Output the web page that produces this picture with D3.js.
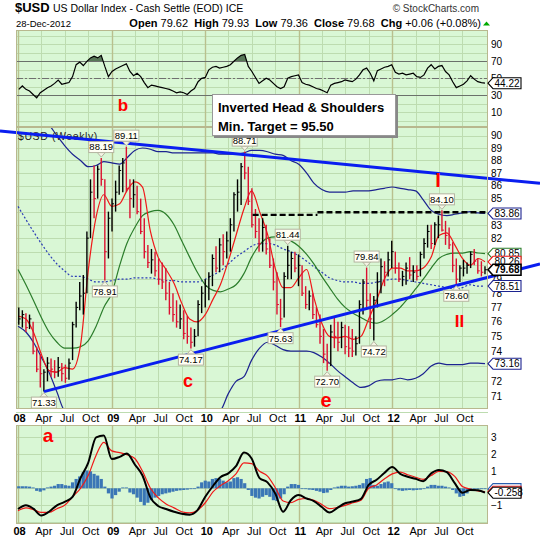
<!DOCTYPE html>
<html>
<head>
<meta charset="utf-8">
<script src="https://cdnjs.cloudflare.com/ajax/libs/d3/7.8.5/d3.min.js"></script>
<style>
	body { margin: 0; background: #fff; }
	svg text { font-family: "Liberation Sans", Arial, sans-serif; }
</style>
</head>
<body>
<script>
// weekly-ish bars (every two weeks from 4 Jan 2008)
var barHigh = [
	77.0,76.8,76.6,76.5,76.0,74.3,73.8,72.8,73.6,73.5,
	73.4,73.6,73.2,73.1,73.5,76.0,77.4,78.8,79.3,82.5,
	86.5,87.6,87.6,88.19,86.5,84.0,85.0,86.4,87.6,88.2,
	89.11,86.5,86.5,86.0,85.0,83.5,81.5,81.2,81.0,80.5,
	80.2,79.8,78.8,78.0,77.5,77.2,76.8,76.4,75.6,75.5,
	77.5,78.5,79.0,79.5,80.8,81.4,82.0,82.3,82.5,83.5,
	85.5,86.5,87.8,88.71,87.5,85.8,84.2,83.5,83.5,83.0,
	82.0,80.5,79.5,77.6,79.5,81.44,81.0,81.0,80.8,80.0,
	78.5,78.2,78.0,77.0,76.5,75.5,74.5,75.8,76.3,76.0,
	76.0,75.8,75.7,75.5,75.0,77.5,79.0,79.84,78.0,77.8,
	79.5,80.5,80.3,81.0,81.8,81.0,80.2,79.6,80.2,80.6,
	80.0,80.0,81.0,82.0,83.0,83.0,83.2,83.7,84.10,83.3,
	82.8,81.7,80.5,80.0,80.4,80.2,81.0,81.2,80.5,80.3,
	79.93
];
var barLow = [
	75.8,75.6,75.3,75.5,73.8,72.6,71.6,71.33,72.0,72.3,
	72.2,72.3,72.0,71.9,72.1,73.4,75.6,76.8,76.5,78.0,
	82.0,83.5,85.0,86.0,78.91,80.5,82.5,84.0,85.3,85.5,
	85.5,83.5,84.3,83.8,82.3,80.5,79.8,79.4,79.2,78.6,
	78.3,77.5,76.5,76.0,75.6,75.5,74.8,74.5,74.17,74.3,
	75.0,76.6,77.0,77.5,78.5,79.5,79.5,80.0,80.5,81.0,
	82.5,84.0,84.5,86.5,84.5,82.8,82.0,81.0,81.0,80.8,
	79.8,78.2,76.5,75.63,76.3,79.0,79.0,79.5,78.5,77.8,
	76.9,76.8,76.2,75.6,74.5,73.2,72.70,73.0,74.2,74.0,
	74.2,73.8,73.6,73.6,73.7,74.5,76.5,77.0,75.5,74.72,
	77.0,78.0,78.5,79.2,79.8,79.4,78.8,78.5,78.6,79.0,
	78.8,78.9,79.2,80.5,81.3,81.2,81.5,82.0,82.5,81.5,
	81.2,79.5,78.60,78.8,79.2,79.4,79.8,80.0,79.4,79.2,
	79.36
];
var barClose = [
	76.2,76.5,75.6,76.2,74.0,72.8,72.5,72.6,73.2,72.8,
	72.6,72.9,72.5,72.2,73.2,75.8,77.0,77.8,78.0,82.0,
	85.5,85.0,87.3,86.5,81.0,83.5,84.6,85.5,87.2,87.8,
	85.8,85.0,85.3,84.0,82.5,81.0,80.2,80.4,79.6,79.0,
	78.8,78.0,77.0,76.5,76.0,76.2,75.2,75.0,74.6,75.0,
	77.2,78.0,78.5,79.2,80.5,79.8,81.5,81.0,81.8,83.0,
	85.3,85.5,87.5,87.0,84.8,83.0,82.5,81.6,82.8,81.2,
	80.0,78.8,77.2,76.2,79.2,80.0,80.5,79.8,80.0,78.0,
	77.2,77.8,76.5,75.8,75.0,73.8,73.2,75.3,75.0,74.6,
	75.6,74.3,74.2,74.0,74.5,77.2,78.8,77.5,76.2,77.5,
	78.8,79.9,79.5,80.4,81.0,79.8,79.0,79.2,79.8,79.3,
	79.5,79.2,80.8,81.6,82.5,81.6,83.0,83.0,82.6,82.2,
	81.5,80.0,79.0,79.8,79.8,80.0,80.8,80.3,79.6,79.5,
	79.68
];
var rsiValues = [
	37,41,37,35,31,27,33,36,39,41,
	44,48,43,44,45,52,66,69,65,70,
	74,76,74,77,64,52,58,61,63,65,
	67,58,53,56,52,45,39,42,41,40,
	39,38,37,35,33,34,33,31,35,38,
	46,50,51,60,63,64,62,63,64,66,
	70,74,77,78,64,58,51,44,47,50,
	48,44,40,38,40,50,52,53,54,45,
	43,42,40,38,37,35,33,42,44,45,
	46,48,47,46,49,54,60,62,56,47,
	59,61,63,64,66,57,55,56,54,55,
	56,52,51,54,62,66,61,64,65,58,
	54,46,39,41,43,47,53,49,46,45,
	44.22
];
var histValues = [
	0.12,0.12,0.12,0.1,0.05,-0.15,-0.2,-0.12,0.05,0.1,
	0.15,0.25,0.25,0.18,0.15,0.35,0.55,0.7,0.95,1.05,
	1.0,0.85,0.75,0.55,0.1,-0.3,-0.6,-0.4,-0.2,0.05,
	0.05,-0.25,-0.35,-0.55,-0.8,-1.0,-0.85,-0.7,-0.55,-0.45,
	-0.35,-0.3,-0.25,-0.2,-0.15,-0.12,-0.1,-0.08,-0.05,0.0,
	0.1,0.35,0.45,0.4,0.55,0.6,0.55,0.45,0.35,0.4,
	0.6,0.65,0.55,0.3,-0.1,-0.45,-0.55,-0.6,-0.5,-0.4,
	-0.5,-0.7,-0.75,-0.6,-0.35,0.1,0.25,0.25,0.2,0.0,
	-0.05,-0.08,-0.1,-0.15,-0.2,-0.28,-0.25,-0.1,0.05,0.1,
	0.15,0.15,0.1,0.12,0.15,0.2,0.3,0.55,0.6,0.2,
	0.15,0.25,0.35,0.4,0.3,0.0,-0.12,-0.15,-0.12,-0.1,
	-0.12,-0.1,-0.08,0.0,0.1,0.2,0.2,0.15,0.15,0.1,
	0.05,-0.1,-0.3,-0.5,-0.45,-0.3,-0.15,-0.1,-0.05,-0.05,
	-0.05
];

// month-start readings Jan 2008 .. Dec 2012, plus the last week
var redMA = [
	76.4,76.2,75.3,73.8,72.7,72.6,72.9,72.8,74.4,79.6,
	83.6,85.3,84.4,84.6,85.6,86.3,85.9,82.5,80.6,79.7,
	78.7,77.3,76.2,76.0,76.5,77.6,78.6,80.3,82.2,84.2,
	85.6,84.0,82.3,79.8,78.4,78.4,79.1,79.7,77.7,75.9,
	75.0,74.9,75.0,74.8,75.0,76.2,77.5,79.0,79.8,79.8,
	79.6,79.6,79.8,80.6,82.2,82.4,81.5,80.5,80.0,80.5,
	80.26
];
var greenMA = [
	79.7,78.6,77.5,76.3,75.3,74.6,74.2,74.2,74.3,74.7,
	75.7,77.0,78.0,80.0,81.6,82.8,83.7,84.0,84.1,83.8,
	83.0,81.8,80.6,79.5,78.6,78.2,78.1,78.3,78.6,79.4,
	80.6,81.5,82.0,82.1,82.0,81.8,81.4,80.8,80.1,79.2,
	78.4,77.6,77.0,76.6,76.3,76.0,75.9,76.1,76.5,77.0,
	77.6,78.3,79.0,79.8,80.5,80.8,80.9,80.9,81.0,80.9,
	80.85
];
var midBand = [
	84.4,83.4,82.5,81.6,80.8,80.1,79.6,79.2,79.2,79.0,
	78.8,78.8,78.9,79.0,79.0,79.1,79.1,79.1,79.0,78.9,
	78.9,78.8,78.8,78.8,79.0,79.3,79.6,80.1,80.6,81.0,
	81.4,81.6,81.6,81.5,81.2,81.0,80.7,80.3,79.9,79.5,
	79.1,78.9,78.8,78.8,78.7,78.7,78.8,78.9,79.0,79.0,
	78.9,78.8,78.7,78.6,78.5,78.4,78.3,78.4,78.6,78.5,
	78.51
];
var upperBand = [
	93.0,92.5,92.0,91.5,90.9,90.0,89.2,88.5,88.0,87.5,
	87.6,87.9,87.8,87.7,88.2,88.8,89.0,88.9,88.7,88.7,
	88.6,88.6,88.6,88.6,88.6,88.6,88.5,88.5,88.5,88.6,
	88.8,88.8,88.7,88.5,88.4,88.0,87.7,87.0,86.2,85.7,
	85.5,85.5,85.5,85.6,85.6,85.6,85.7,85.8,85.9,85.8,
	85.7,85.6,84.9,84.1,83.8,83.7,83.8,83.9,84.0,83.9,
	83.86
];
var lowerBand = [
	75.7,75.3,74.6,73.6,72.6,71.3,70.1,69.9,69.9,69.9,
	69.8,69.6,69.7,70.0,69.8,69.4,69.2,69.3,69.3,69.1,
	69.2,69.0,69.0,69.0,69.4,69.9,70.1,71.2,72.0,72.3,
	73.4,74.2,74.6,74.4,74.1,74.0,74.0,74.0,73.9,73.6,
	73.2,72.7,72.3,71.9,71.6,71.7,72.0,72.1,72.1,72.2,
	72.1,72.2,72.5,73.0,73.2,73.1,73.1,73.1,73.2,73.2,
	73.16
];
var macdLine = [
	-1.22,-1.0,-1.2,-1.6,-1.38,-1.0,-0.8,-0.5,0.6,1.5,
	3.0,3.1,1.72,1.85,2.05,1.4,0.75,-0.55,-1.04,-1.22,
	-1.38,-1.5,-1.55,-1.3,-0.5,0.15,0.65,0.88,1.3,2.1,
	1.75,0.6,0.35,-0.3,-1.38,-0.7,-0.4,-0.6,-0.75,-1.1,
	-1.42,-1.15,-0.88,-0.78,-0.62,0.2,0.5,0.9,1.25,0.85,
	0.68,0.56,0.42,0.88,1.08,0.95,0.3,-0.26,-0.1,-0.12,
	-0.258
];
var signalLine = [
	-1.32,-1.15,-1.25,-1.42,-1.42,-1.2,-1.0,-0.5,0.0,0.75,
	1.95,2.7,2.2,2.1,1.98,1.75,1.0,0.0,-0.55,-0.92,
	-1.15,-1.38,-1.45,-1.3,-0.85,-0.2,0.15,0.45,0.85,1.5,
	1.45,1.0,0.72,0.05,-0.75,-0.85,-0.65,-0.6,-0.7,-0.95,
	-1.2,-1.12,-1.0,-0.85,-0.7,0.0,0.2,0.55,0.85,0.95,
	0.8,0.65,0.53,0.75,1.0,0.98,0.7,0.1,-0.05,-0.15,
	-0.2
];

var peakBars = [7, 23, 24, 30, 48, 63, 73, 75, 86, 97, 99, 118, 122];
var peakSide = ['lo','hi','lo','hi','lo','hi','lo','hi','lo','hi','lo','hi','lo'];

var yearLabels = ['08', '09', '10', '11', '12'];
var monthLabels = ['Apr', 'Jul', 'Oct'];
var priceTicks = [71,72,73,74,75,76,77,78,79,80,81,82,83,84,85,86,87,88,89,90];
var rsiTicks = [90, 70, 50, 30, 10];
var macdTicks = [3, 2, 1, -1];
var headerStats = [['Open', '79.62'], ['High', '79.93'], ['Low', '79.36'], ['Close', '79.68'], ['Chg', '+0.06 (+0.08%)']];

// trend lines: [date, price]
var upperTrend = [[new Date(2008, 0, 1), 90.25], [new Date(2013, 0, 1), 86.6]];
var lowerTrend = [[null, 71.33], [new Date(2013, 0, 1), 79.1]];
var neckline = [[new Date(2010, 6, 5), new Date(2011, 2, 15), 83.75], [new Date(2011, 2, 15), new Date(2012, 11, 31), 83.95]];

var left = 16, right = 488;
var svg = d3.select('body').append('svg').attr('width', 540).attr('height', 540);

var x = d3.scaleTime().domain([new Date(2008, 0, 1), new Date(2013, 0, 1)]).range([18, 486]);
var barDates = barHigh.map(function(d, i) { return d3.timeDay.offset(new Date(2008, 0, 4), 14 * i); });
var monthDates = d3.range(60).map(function(m) { return d3.timeMonth.offset(new Date(2008, 0, 1), m); }).concat([new Date(2012, 11, 28)]);
lowerTrend[0][0] = barDates[7];

var yRsi = d3.scaleLinear().domain([0, 100]).range([120.8, 35.8]);
var yPrice = d3.scaleLog().domain([71, 90]).range([396.7, 135.7]);
var yMacd = d3.scaleLinear().domain([0, 1]).range([488.3, 471.3]);

var quarterDates = d3.timeMonth.every(3).range(new Date(2008, 0, 1), new Date(2013, 0, 1));

function last(a) { return a[a.length - 1]; }

function drawPanel(top, bottom, yScale, grid, id) {
	svg.append('rect')
		.attr('x', left).attr('y', top)
		.attr('width', right - left).attr('height', bottom - top)
		.attr('fill', '#d9f7d5');

	svg.append('g').selectAll('line')
		.data(grid)
		.enter()
		.append('line')
		.attr('x1', left).attr('x2', right)
		.attr('y1', function(d) { return Math.round(yScale(d)) + 0.5; })
		.attr('y2', function(d) { return Math.round(yScale(d)) + 0.5; })
		.attr('stroke', '#bddcb0');

	svg.append('g').selectAll('line')
		.data(quarterDates)
		.enter()
		.append('line')
		.attr('x1', function(d) { return Math.round(x(d)) + 0.5; })
		.attr('x2', function(d) { return Math.round(x(d)) + 0.5; })
		.attr('y1', top).attr('y2', bottom)
		.attr('stroke', function(d) { return d.getMonth() === 0 ? '#b9c08e' : '#bddcb0'; })
		.attr('stroke-width', function(d) { return d.getMonth() === 0 ? 1.4 : 1; });

	svg.append('clipPath').attr('id', id)
		.append('rect')
		.attr('x', left).attr('y', top)
		.attr('width', right - left).attr('height', bottom - top);
}

function drawBorder(top, bottom) {
	svg.append('rect')
		.attr('x', left + 0.5).attr('y', top + 0.5)
		.attr('width', right - left - 1).attr('height', bottom - top - 1)
		.attr('fill', 'none')
		.attr('stroke', '#b8b88e');
}

function drawTag(y, label, color, bold) {
	var g = svg.append('g');
	g.append('path')
		.attr('d', 'M488,' + y + 'L493,' + (y - 5.5) + 'L521,' + (y - 5.5) + 'L521,' + (y + 5.5) + 'L493,' + (y + 5.5) + 'Z')
		.attr('fill', '#fff')
		.attr('stroke', color)
		.attr('stroke-width', bold ? 1.6 : 1.1);
	g.append('text')
		.attr('x', 494.5).attr('y', y + 3.6)
		.style('font-size', '10px')
		.style('font-weight', bold ? 'bold' : 'normal')
		.attr('fill', '#000')
		.text(label);
}

function valueAxis(scale, ticks, fmt) {
	var g = svg.append('g')
		.attr('transform', 'translate(' + right + ',0)')
		.call(d3.axisRight(scale).tickValues(ticks).tickSize(0).tickPadding(3).tickFormat(fmt));
	g.select('.domain').remove();
	g.selectAll('text').style('font-size', '10px').style('font-family', '"Liberation Sans", Arial, sans-serif').attr('fill', '#000');
}

function timeAxis(y, pad) {
	var g = svg.append('g')
		.attr('transform', 'translate(0,' + y + ')')
		.call(d3.axisBottom(x).tickValues(quarterDates).tickSize(0).tickPadding(pad)
			.tickFormat(function(d) {
				return d.getMonth() === 0 ? yearLabels[d.getFullYear() - 2008] : monthLabels[d.getMonth() / 3 - 1];
			}));
	g.select('.domain').remove();
	g.selectAll('text')
		.style('font-size', '11px')
		.style('font-family', '"Liberation Sans", Arial, sans-serif')
		.style('font-weight', function(d) { return d.getMonth() === 0 ? 'bold' : 'normal'; })
		.attr('dx', function(d) { return d.getMonth() === 0 ? 1 : 2; })
		.attr('fill', '#000');
}

// ---------- header ----------
svg.append('text').attr('x', 15).attr('y', 12).style('font-size', '13px').style('font-weight', 'bold').text('$USD');
svg.append('text').attr('x', 53).attr('y', 12).style('font-size', '10.5px').text('US Dollar Index - Cash Settle (EOD) ICE');
svg.append('text').attr('x', 479).attr('y', 12).attr('text-anchor', 'end').style('font-size', '10px').attr('fill', '#333').text('\u00a9 StockCharts.com');
svg.append('text').attr('x', 16).attr('y', 26.5).style('font-size', '9.5px').text('28-Dec-2012');

var stats = svg.append('text').attr('x', 481).attr('y', 26.5).attr('text-anchor', 'end').style('font-size', '11px');
headerStats.forEach(function(s, i) {
	stats.append('tspan').style('font-weight', 'bold').text((i ? '\u00a0\u00a0' : '') + s[0]);
	stats.append('tspan').text('\u00a0' + s[1]);
});
svg.append('path').attr('d', 'M483,25.5L486.5,21.5L490,25.5Z').attr('fill', '#0a0');

// ---------- RSI panel ----------
drawPanel(30, 127, yRsi, d3.range(0, 101, 10), 'clipRsi');

svg.append('g').selectAll('line')
	.data([70, 50, 30])
	.enter()
	.append('line')
	.attr('x1', left).attr('x2', right)
	.attr('y1', function(d) { return Math.round(yRsi(d)) + 0.5; })
	.attr('y2', function(d) { return Math.round(yRsi(d)) + 0.5; })
	.attr('stroke', '#707070')
	.attr('stroke-dasharray', function(d) { return d === 50 ? '7,2,2,2' : null; });

svg.append('clipPath').attr('id', 'rsiHigh').append('rect').attr('x', left).attr('y', 30).attr('width', right - left).attr('height', yRsi(70) - 30);
svg.append('clipPath').attr('id', 'rsiLow').append('rect').attr('x', left).attr('y', yRsi(30)).attr('width', right - left).attr('height', 127 - yRsi(30));

var rsiArea70 = d3.area().x(function(d, i) { return x(barDates[i]); }).y0(yRsi(70)).y1(function(d) { return yRsi(d); });
var rsiArea30 = d3.area().x(function(d, i) { return x(barDates[i]); }).y0(yRsi(30)).y1(function(d) { return yRsi(d); });
svg.append('path').datum(rsiValues).attr('d', rsiArea70).attr('fill', '#587858').attr('clip-path', 'url(#rsiHigh)');
svg.append('path').datum(rsiValues).attr('d', rsiArea30).attr('fill', '#587858').attr('clip-path', 'url(#rsiLow)');

svg.append('path')
	.datum(rsiValues)
	.attr('d', d3.line().x(function(d, i) { return x(barDates[i]); }).y(function(d) { return yRsi(d); }))
	.attr('fill', 'none')
	.attr('stroke', '#000')
	.attr('stroke-width', 1.2)
	.attr('clip-path', 'url(#clipRsi)');

// ---------- price panel ----------
drawPanel(127, 409, yPrice, [70].concat(priceTicks), 'clipPrice');

var monthLine = function(scale) {
	return d3.line()
		.x(function(d, i) { return x(monthDates[i]); })
		.y(function(d) { return scale(d); })
		.curve(d3.curveMonotoneX);
};

var priceLayer = svg.append('g').attr('clip-path', 'url(#clipPrice)');

[[upperBand, '#1c2390', null], [lowerBand, '#1c2390', null], [midBand, '#2a3bb5', '2,2'], [greenMA, '#2b7d2b', null], [redMA, '#f01818', null]].forEach(function(s) {
	priceLayer.append('path')
		.datum(s[0])
		.attr('d', monthLine(yPrice))
		.attr('fill', 'none')
		.attr('stroke', s[1])
		.attr('stroke-width', 1.2)
		.attr('stroke-dasharray', s[2]);
});

var bars = priceLayer.selectAll('g.bar')
	.data(barHigh)
	.enter()
	.append('g')
	.attr('class', 'bar');

function barColor(d, i) {
	return i > 0 && barClose[i] < barClose[i - 1] ? '#dc1030' : '#000';
}

bars.append('line')
	.attr('x1', function(d, i) { return x(barDates[i]); })
	.attr('x2', function(d, i) { return x(barDates[i]); })
	.attr('y1', function(d) { return yPrice(d); })
	.attr('y2', function(d, i) { return yPrice(barLow[i]); })
	.attr('stroke', barColor)
	.attr('stroke-width', 1.4);

bars.append('line')
	.attr('x1', function(d, i) { return x(barDates[i]); })
	.attr('x2', function(d, i) { return x(barDates[i]) + 2; })
	.attr('y1', function(d, i) { return yPrice(barClose[i]); })
	.attr('y2', function(d, i) { return yPrice(barClose[i]); })
	.attr('stroke', barColor)
	.attr('stroke-width', 1);

svg.append('text')
	.attr('x', 18).attr('y', 139.5)
	.style('font-size', '10.5px')
	.style('letter-spacing', '0.6px')
	.attr('fill', '#222')
	.text('$USD (Weekly)');

// neckline
svg.append('g').selectAll('line')
	.data(neckline)
	.enter()
	.append('line')
	.attr('x1', function(d) { return x(d[0]); })
	.attr('x2', function(d) { return Math.min(x(d[1]), right); })
	.attr('y1', function(d) { return yPrice(d[2]); })
	.attr('y2', function(d) { return yPrice(d[2]); })
	.attr('stroke', '#000')
	.attr('stroke-width', 2.4)
	.attr('stroke-dasharray', '6,3');

// trend lines, stretched out to the picture edges
function trendPath(pts, x0, x1) {
	var ax = x(pts[0][0]), ay = yPrice(pts[0][1]);
	var bx = x(pts[1][0]), by = yPrice(pts[1][1]);
	var k = (by - ay) / (bx - ax);
	var sx = x0 === null ? ax : x0;
	var sy = ay + k * (sx - ax);
	return 'M' + sx + ',' + sy + 'L' + x1 + ',' + (ay + k * (x1 - ax));
}
svg.append('path').attr('d', trendPath(upperTrend, 0, 540)).attr('stroke', '#0a1ef0').attr('stroke-width', 3).attr('fill', 'none');
svg.append('path').attr('d', trendPath(lowerTrend, null, 540)).attr('stroke', '#0a1ef0').attr('stroke-width', 3).attr('fill', 'none');

// peak / trough labels
peakBars.forEach(function(b, k) {
	var hi = peakSide[k] === 'hi';
	var v = hi ? barHigh[b] : barLow[b];
	var px = x(barDates[b]), py = yPrice(v);
	var cy = hi ? py - 11 : py + 11;
	var w = 25, h = 11;
	var edge = hi ? cy + h / 2 : cy - h / 2;
	var g = svg.append('g');
	g.append('path')
		.attr('d', 'M' + (px - 4) + ',' + edge + 'L' + px + ',' + (hi ? py - 1 : py + 1) + 'L' + (px + 4) + ',' + edge + 'Z')
		.attr('fill', '#f4f4e4')
		.attr('stroke', '#b4b4a0');
	g.append('rect')
		.attr('x', px - w / 2).attr('y', cy - h / 2)
		.attr('width', w).attr('height', h)
		.attr('fill', '#fffff4')
		.attr('stroke', '#b4b4a0');
	g.append('text')
		.attr('x', px).attr('y', cy + 3.4)
		.attr('text-anchor', 'middle')
		.style('font-size', '9.5px')
		.text(v.toFixed(2));
});

// ---------- MACD panel ----------
drawPanel(425, 524, yMacd, [-2, -1, 0, 1, 2, 3], 'clipMacd');

var macdLayer = svg.append('g').attr('clip-path', 'url(#clipMacd)');
macdLayer.selectAll('rect')
	.data(histValues)
	.enter()
	.append('rect')
	.attr('x', function(d, i) { return x(barDates[i]) - 1.6; })
	.attr('width', 3.2)
	.attr('y', function(d) { return Math.min(yMacd(d), yMacd(0)); })
	.attr('height', function(d) { return Math.max(Math.abs(yMacd(d) - yMacd(0)), 0.8); })
	.attr('fill', '#3a76b6');

macdLayer.append('path')
	.datum(signalLine)
	.attr('d', monthLine(yMacd))
	.attr('fill', 'none')
	.attr('stroke', '#f01818')
	.attr('stroke-width', 1.2);
macdLayer.append('path')
	.datum(macdLine)
	.attr('d', monthLine(yMacd))
	.attr('fill', 'none')
	.attr('stroke', '#000')
	.attr('stroke-width', 2);

// ---------- borders, axes, notes ----------
drawBorder(30, 127);
drawBorder(127, 409);
drawBorder(425, 524);

timeAxis(409, 5);
timeAxis(524, 3.5);

// price ticks that sit under a last-value tag are hidden in the original
var priceTagValues = [last(upperBand), last(greenMA), last(redMA), last(barClose), last(midBand), last(lowerBand)];
var shownPriceTicks = priceTicks.filter(function(t) {
	return priceTagValues.every(function(v) { return Math.abs(yPrice(t) - yPrice(v)) >= 6; });
});

valueAxis(yRsi, rsiTicks, d3.format('d'));
valueAxis(yPrice, shownPriceTicks, d3.format('d'));
valueAxis(yMacd, macdTicks, d3.format('d'));

// note box
svg.append('rect').attr('x', 214).attr('y', 96).attr('width', 184).attr('height', 42).attr('fill', '#888');
svg.append('rect').attr('x', 212.5).attr('y', 94.5).attr('width', 183).attr('height', 41).attr('fill', '#fff').attr('stroke', '#999');
svg.append('text').attr('x', 218).attr('y', 112).style('font-size', '13px').style('font-weight', 'bold').text('Inverted Head & Shoulders');
svg.append('text').attr('x', 218).attr('y', 131).style('font-size', '13px').style('font-weight', 'bold').text('Min. Target = 95.50');

// wave letters
[['b', 123, 111, 17], ['c', 188, 387, 18], ['e', 326, 406.5, 20], ['a', 48, 441.5, 19], ['I', 438, 187, 20], ['II', 459.5, 327, 17]].forEach(function(t) {
	svg.append('text')
		.attr('x', t[1]).attr('y', t[2])
		.attr('text-anchor', 'middle')
		.style('font-size', t[3] + 'px')
		.style('font-weight', 'bold')
		.attr('fill', '#f00')
		.text(t[0]);
});

// last-value tags
drawTag(yPrice(last(upperBand)), last(upperBand).toFixed(2), '#1c2390', false);
drawTag(yPrice(last(greenMA)), last(greenMA).toFixed(2), '#2b7d2b', false);
drawTag(yPrice(last(midBand)), last(midBand).toFixed(2), '#1c2390', false);
drawTag(yPrice(last(lowerBand)), last(lowerBand).toFixed(2), '#1c2390', false);
drawTag(yPrice(last(redMA)), last(redMA).toFixed(2), '#f01818', false);
drawTag(yPrice(last(barClose)), last(barClose).toFixed(2), '#000', true);
drawTag(yRsi(last(rsiValues)), last(rsiValues).toFixed(2), '#000', false);
drawTag(yMacd(last(histValues)), '', '#2a5fb0', false);
drawTag(yMacd(last(signalLine)), '', '#f01818', false);
drawTag(yMacd(last(macdLine)), last(macdLine).toFixed(3), '#000', false);
</script>
</body>
</html>
